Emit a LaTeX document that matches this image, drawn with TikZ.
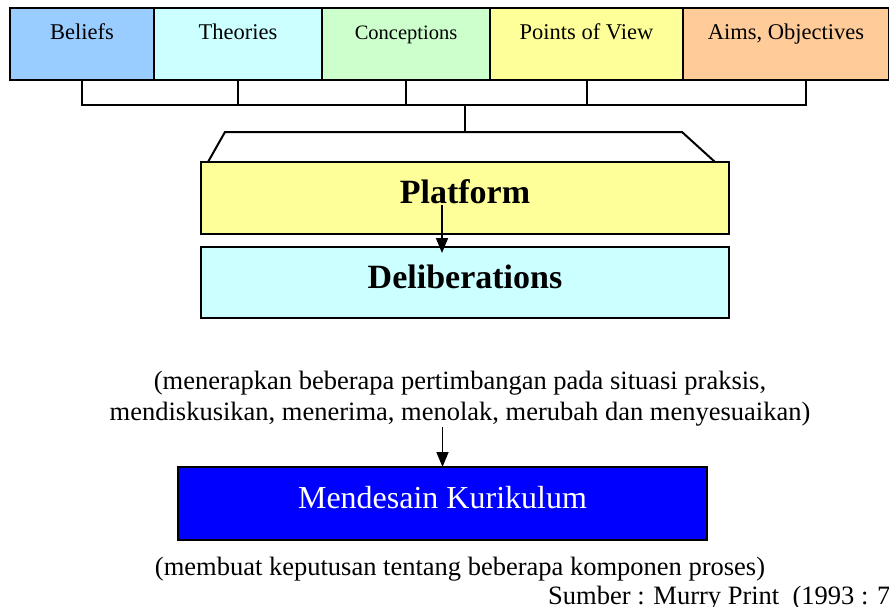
\documentclass[tikz,border=0pt]{standalone}
\usepackage{fontspec}
\setmainfont{Liberation Serif}
\usetikzlibrary{positioning,arrows.meta}
\definecolor{beliefC}{HTML}{99CCFF}
\definecolor{theoryC}{HTML}{CCFFFF}
\definecolor{conceptC}{HTML}{CCFFCC}
\definecolor{viewC}{HTML}{FFFF99}
\definecolor{aimC}{HTML}{FFCC99}
\tikzset{
	box/.style={draw, line width=2pt, inner sep=0pt, outer sep=0pt},
	topbox/.style={box, minimum height=72pt, text height=14pt, text depth=24pt, font=\fontsize{22.5}{26}\selectfont},
	bigbox/.style={box, minimum width=528pt, text height=23pt, text depth=12pt, font=\fontsize{34}{38}\selectfont\bfseries},
	note/.style={inner sep=0pt, font=\fontsize{26.5}{31}\selectfont},
	link/.style={line width=2pt},
	arrow/.style={line width=1.6pt, -{Triangle[length=15pt,width=12pt]}}
}
\begin{document}
\begin{tikzpicture}[x=1pt, y=-1pt, node distance=0pt]
		\useasboundingbox (0,0) rectangle (889,606);
		\node (beliefs) [topbox, fill=beliefC, minimum width=144pt] at (82,44) {Beliefs};
		\node (theories) [topbox, fill=theoryC, minimum width=168pt, right=of beliefs] {Theories};
		\node (conceptions) [topbox, fill=conceptC, minimum width=168pt, right=of theories, font=\fontsize{20.5}{24}\selectfont] {Conceptions};
		\node (views) [topbox, fill=viewC, minimum width=193pt, right=of conceptions] {Points of View};
		\node (aims) [topbox, fill=aimC, minimum width=206pt, right=of views] {Aims, Objectives};
		
		\draw[link] (beliefs.south) -- ++(0,25) -| ([xshift=20pt]aims.south);
		\foreach \n in {theories,conceptions,views}
			\draw[link] (\n.south) -- ++(0,25);
		
		\node (platform) [bigbox, fill=viewC, minimum height=72pt] at (465,198) {Platform};
		\node (delib) [bigbox, fill=theoryC, minimum height=71pt, below=13pt of platform] {Deliberations};
		
		\draw[link] ([xshift=7pt]platform.north west) -- ++(17,-30) -- ++(457,0) -- ([xshift=-14pt]platform.north east);
		\draw[link] ([yshift=31pt]platform.north) -- ++(0,-26);
		\draw[arrow] ([xshift=-23pt,yshift=-7pt]platform.center) -- ([xshift=-23pt,yshift=-6pt]delib.north);
		
		\node (notes) [note, align=center] at (460,399) {(menerapkan beberapa pertimbangan pada situasi praksis,\\mendiskusikan, menerima, menolak, merubah dan menyesuaikan)};
		\node (design) [box, fill=blue, text=white, minimum width=529pt, minimum height=73pt, text height=21pt, text depth=12pt, font=\fontsize{32}{36}\selectfont] at (442.5,503.5) {Mendesain Kurikulum};
		\draw[arrow] (notes.south -| design.north) -- (design.north);
		
		\node (decide) [note] at (460,569) {(membuat keputusan tentang beberapa komponen proses)};
		\node (source) [note, anchor=base west] at (548,604) {Sumber : Murry Print\ \ (1993 : 7)};
	\end{tikzpicture}
\end{document}
